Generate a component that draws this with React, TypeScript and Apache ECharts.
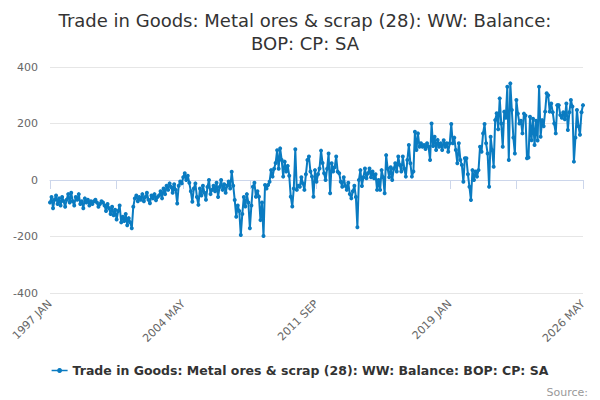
import React, { useEffect, useRef } from "react";
import * as echarts from "echarts";

const TITLE = "Trade in Goods: Metal ores & scrap (28): WW: Balance:\nBOP: CP: SA";
const SERIES_NAME = "Trade in Goods: Metal ores & scrap (28): WW: Balance: BOP: CP: SA";
const MONTHS = ["JAN", "FEB", "MAR", "APR", "MAY", "JUN", "JUL", "AUG", "SEP", "OCT", "NOV", "DEC"];
const START_YEAR = 1997;
const Y_TICKS = [-400, -200, 0, 200, 400];

const v1997 = [-80, -60, -100, -70, -55, -85, -65, -90, -60, -75, -95, -70];
const v1998 = [-50, -80, -45, -75, -90, -60, -70, -50, -85, -75, -100, -65];
const v1999 = [-80, -70, -90, -75, -85, -75, -70, -80, -95, -85, -75, -80];
const v2000 = [-90, -110, -85, -100, -120, -95, -125, -105, -140, -110, -90, -150];
const v2001 = [-130, -145, -120, -160, -135, -150, -171, -95, -65, -55, -75, -60];
const v2002 = [-70, -50, -75, -60, -45, -70, -82, -55, -65, -50, -72, -60];
const v2003 = [-55, -40, -65, -30, -50, -20, -35, -12, -25, -45, -15, -35];
const v2004 = [-83, -20, -5, -12, 10, 24, 0, 15, -10, -40, -77, -30];
const v2005 = [-12, -60, -88, -30, -55, -20, -45, -70, -25, 0, -50, -35];
const v2006 = [-20, -40, -10, -60, -25, 0, -35, -15, -45, -20, -5, -30];
const v2007 = [29, -20, -71, -130, -90, -110, -195, -120, -60, -94, -50, -80];
const v2008 = [-171, -90, -24, -10, -59, -40, -59, -142, -80, -198, -18, -30];
const v2009 = [-18, -6, 35, 12, 40, 60, 105, 40, 112, 71, 12, 65];
const v2010 = [30, 50, 15, -59, -94, -30, 109, -35, -20, -24, 10, -12];
const v2011 = [-35, 20, 71, 83, 30, 12, -59, 35, -6, 20, 41, 104];
const v2012 = [60, 24, 0, 40, 94, -47, 59, 30, 45, 83, 29, 24];
const v2013 = [-6, -24, 10, -20, -35, -10, -50, -65, -40, -20, -60, -167];
const v2014 = [0, 35, -21, 10, 41, 6, 24, 41, 10, 30, 6, 20];
const v2015 = [-35, 0, -35, 35, 10, -47, 88, 40, 10, 45, 0, 40];
const v2016 = [59, 30, 83, 53, 30, 83, 40, 12, 71, 124, 59, 12];
const v2017 = [30, 171, 106, 165, 118, 130, 118, 124, 110, 130, 118, 71];
const v2018 = [200, 120, 153, 106, 142, 118, 130, 106, 141, 118, 130, 100];
const v2019 = [130, 198, 130, 150, 106, 59, 130, 71, 53, -6, 77, 77];
const v2020 = [20, -24, -71, 35, 0, 30, 12, 35, 118, 100, 165, 198];
const v2021 = [130, 94, -24, 153, 106, 47, 212, 236, 180, 289, 200, 118];
const v2022 = [242, 220, 330, 71, 342, 248, 150, 94, 283, 235, 200, 210];
const v2023 = [165, 235, 228, 77, 80, 224, 141, 217, 124, 210, 140, 330];
const v2024 = [153, 212, 190, 242, 307, 300, 242, 271, 240, 200, 165, 265];
const v2025 = [265, 230, 220, 240, 215, 271, 177, 240, 283, 260, 65, 150];
const v2026 = [248, 190, 160, 240, 265];

const VALUES = [
  ...v1997, ...v1998, ...v1999, ...v2000, ...v2001, ...v2002, ...v2003, ...v2004,
  ...v2005, ...v2006, ...v2007, ...v2008, ...v2009, ...v2010, ...v2011, ...v2012,
  ...v2013, ...v2014, ...v2015, ...v2016, ...v2017, ...v2018, ...v2019, ...v2020,
  ...v2021, ...v2022, ...v2023, ...v2024, ...v2025, ...v2026,
];

const CATEGORIES = VALUES.map((_, i) => {
  const y = START_YEAR + Math.floor(i / 12);
  return `${y} ${MONTHS[i % 12]}`;
});

const FONT = "DejaVu Sans";
const COLOR = "#0a7bc1";

export default function App() {
  const ref = useRef<HTMLDivElement>(null);
  useEffect(() => {
    if (!ref.current) return;
    const chart = echarts.init(ref.current, undefined, { renderer: "svg" });
    chart.setOption({
      animation: false,
      backgroundColor: "#ffffff",
      title: {
        text: TITLE,
        left: 300,
        top: 4,
        textAlign: "center",
        textStyle: {
          fontFamily: FONT,
          fontSize: 18,
          fontWeight: "normal",
          color: "#333333",
          lineHeight: 23,
          align: "center",
        },
      },
      grid: { left: 50, right: 17, top: 67, bottom: 107, containLabel: false },
      xAxis: {
        type: "category",
        data: CATEGORIES,
        boundaryGap: false,
        axisLine: { show: true, lineStyle: { color: "#ccd6eb", width: 1 } },
        axisTick: {
          show: true,
          interval: 43,
          length: 9,
          lineStyle: { color: "#ccd6eb" },
        },
        axisLabel: {
          interval: 87,
          rotate: 45,
          fontFamily: FONT,
          fontSize: 11,
          color: "#666666",
          margin: 9,
        },
        splitLine: { show: false },
      },
      yAxis: {
        type: "value",
        min: Y_TICKS[0],
        max: Y_TICKS[Y_TICKS.length - 1],
        interval: 200,
        axisLine: { show: false },
        axisTick: { show: false },
        axisLabel: {
          fontFamily: FONT,
          fontSize: 11,
          color: "#666666",
          margin: 12,
        },
        splitLine: { show: true, lineStyle: { color: "#e6e6e6", width: 1 } },
      },
      legend: {
        show: true,
        bottom: 18,
        left: "center",
        itemWidth: 16,
        itemHeight: 6,
        itemGap: 5,
        icon: "path://M0,2.3 L16,2.3 L16,3.7 L0,3.7 Z M8,0.5 A2.5,2.5 0 1 1 7.99,0.5 Z",
        textStyle: {
          fontFamily: FONT,
          fontSize: 12.5,
          fontWeight: "bold",
          color: "#333333",
        },
        data: [SERIES_NAME],
      },
      graphic: [
        {
          type: "text",
          right: 12,
          bottom: 2,
          style: {
            text: "Source:",
            fontFamily: FONT,
            fontSize: 11,
            fill: "#999999",
          },
        },
      ],
      series: [
        {
          name: SERIES_NAME,
          type: "line",
          data: VALUES,
          symbol: "circle",
          symbolSize: 4,
          showSymbol: true,
          showAllSymbol: true,
          lineStyle: { color: COLOR, width: 2 },
          itemStyle: { color: COLOR },
        },
      ],
    });
    return () => chart.dispose();
  }, []);
  return <div ref={ref} style={{ width: 600, height: 400, position: "absolute", left: 0, top: 0 }} />;
}
